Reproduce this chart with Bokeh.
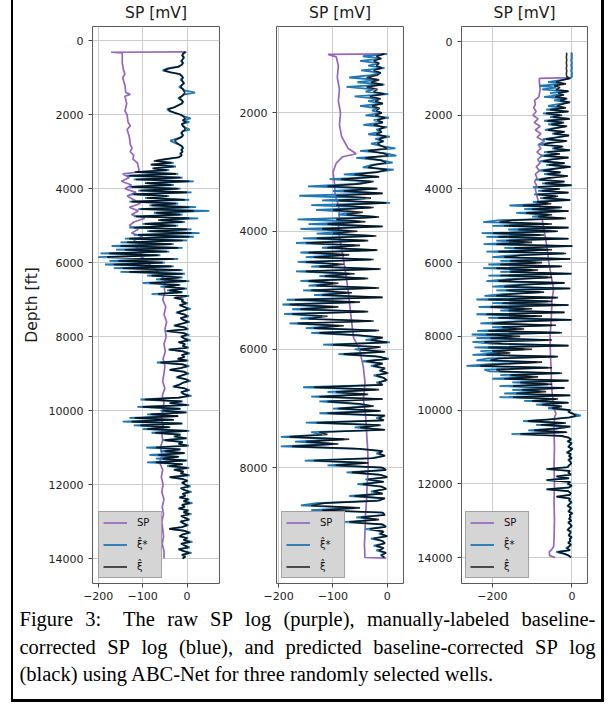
import numpy as np
from bokeh.plotting import figure
from bokeh.models import Range1d, FixedTicker, Legend, LegendItem, Div
from bokeh.layouts import row, column
from bokeh.embed import file_html
from bokeh.resources import INLINE
from bokeh.core.properties import value

# ---------------- Well 1 ----------------
W1_TOP, W1_STEP = 300, 50
SP1_DEPTH = [300, 310, 330, 600, 800, 900, 1000, 1200, 1400, 1450, 1500, 1700, 1900, 2000, 2200, 2300,
             2400, 2600, 2800, 2900, 3000, 3100, 3200, 3300, 3400, 3500, 3550, 3600, 3700, 3800, 3900,
             4000, 4100, 4200, 4300, 4400, 4500, 4600, 4700, 4800, 4900, 5000, 5100, 5200, 5300, 5400,
             5500, 5600, 5700, 5800, 5900, 6000, 6100, 6200, 6300, 6400, 6500, 6600, 6800, 7000, 7200,
             7400, 7600, 7800, 8000, 8200, 8400, 8600, 8800, 9000, 9200, 9400, 9600, 9800, 10000, 10200,
             10400, 10600, 10800, 11000, 11200, 11400, 11600, 11800, 12000, 12200, 12400, 12600, 12800,
             13000, 13200, 13400, 13600, 13800, 14000]
SP1 = [-2, -171, -146, -146, -143, -140, -145, -140, -138, -128, -140, -136, -140, -135, -133, -128,
       -135, -130, -128, -124, -128, -120, -122, -112, -110, -108, -112, -145, -130, -148, -125,
       -140, -115, -135, -120, -105, -130, -110, -125, -95, -120, -130, -110, -125, -100, -120,
       -105, -115, -100, -110, -95, -90, -80, -70, -60, -55, -48, -52, -50, -55, -48,
       -52, -46, -50, -47, -52, -49, -54, -50, -52, -55, -50, -56, -52, -55, -58,
       -54, -57, -55, -60, -56, -62, -55, -58, -54, -57, -52, -56, -53,
       -57, -55, -53, -56, -52, -52]
BLUE1 = [
    # 300-3150
    -2, -8, -12, -6, -10, -14, -8, -12, -20, -45,
    -55, -40, -18, -12, -8, -15, -10, -6, -12, -18,
    -10, -4, 18, -6, -12, -20, -14, -8, -12, -22,
    -30, -45, -40, -28, -15, -5, 8, -10, 5, -12,
    -8, -4, 6, -10, -14, -8, -12, -25, -38, -30,
    -20, -12, -8, -14, -10, -16, -12, -20,
    # 3200-3550
    -45, -70, -30, -80, -25, -75, -40, -115,
    # 3600-5000
    -20, -135, -10, -120, 15, -90, -30, -130, -15, -110,
    10, -125, -40, -95, 5, -130, -20, -85, 20, -110,
    50, -75, -10, -120, 25, -60, -5, -100, -20,
    # 5050-6300
    -130, 10, -90, 28, -120, 15, -140, 0, -150, -30,
    -170, -10, -160, -40, -195, -60, -200, -20, -175, -50,
    -185, -30, -165, -10, -150, -5,
    # 6350-7000
    -90, -10, -70, 5, -100, -15, -60, 0, -45, -10, -80, 5, -30, -8,
    # 7050-9600
    -12, 2, -18, -5, 8, -10, -25, -6, 4, -15,
    -8, 6, -12, -30, -5, 3, -48, -8, 5, -14,
    -6, 8, -20, -4, -10, 4, -42, -8, 6, -12,
    -5, -22, 3, -68, -10, 5, -15, -40, -6, 4,
    -12, -25, -3, 8, -10, -18, -32, -5, 6, -14,
    -8, 10,
    # 9650-11900
    -20, -105, -10, -40, 5, -112, -15, -60, 0, -90,
    -20, -130, -30, -145, -10, -120, -40, -100, 5, -80,
    -15, -30, 0, -55, -10, -20, 4, -92, -15, -60,
    -5, -85, -20, -70, 0, -90, -10, -45, 5, -30,
    -8, -15, 6, -40, -10, 2,
    # 11950-14000
    -12, -4, 8, -15, -6, 10, -10, -3, -18, 5,
    -8, 12, -12, -5, -20, 4, -8, 10, -14, -4,
    6, -16, -8, 3, -12, -40, -6, 8, -10, -18,
    2, -8, 12, -14, -5, 6, -20, -8, 10, -12,
    -4, -10]
BLACK1 = [
    -4, -10, -10, -8, -10, -12, -10, -12, -18, -40,
    -52, -38, -16, -12, -10, -12, -10, -8, -12, -14,
    -10, -8, -5, -8, -12, -18, -12, -10, -12, -20,
    -28, -42, -38, -26, -14, -8, -4, -10, -2, -12,
    -10, -6, -4, -10, -12, -10, -12, -20, -28, -24,
    -18, -12, -10, -12, -10, -14, -12, -18,
    -50, -75, -35, -82, -30, -78, -45, -118,
    -25, -130, -15, -115, 5, -95, -35, -125, -20, -105,
    0, -120, -45, -90, -5, -125, -25, -80, 5, -105,
    15, -70, -15, -115, 5, -65, -10, -95, -25,
    -120, 0, -85, 10, -110, 5, -130, -10, -135, -35,
    -150, -20, -140, -45, -175, -65, -180, -30, -155, -55,
    -165, -35, -145, -15, -130, -10,
    -80, -15, -60, -2, -85, -18, -50, -5, -40, -12, -65, 0, -28, -10,
    -12, -2, -16, -6, 2, -10, -22, -7, 0, -14,
    -8, 2, -12, -28, -6, 0, -45, -9, 0, -13,
    -7, 2, -18, -5, -10, 0, -40, -9, 2, -12,
    -6, -20, -1, -60, -10, 0, -14, -38, -7, 0,
    -12, -22, -4, 3, -10, -17, -30, -6, 2, -13,
    -8, 4,
    -18, -95, -12, -38, 0, -100, -15, -55, -3, -82,
    -20, -118, -30, -125, -12, -105, -38, -90, 0, -72,
    -15, -28, -2, -50, -10, -18, 0, -70, -15, -50,
    -6, -65, -18, -55, -2, -70, -10, -40, 0, -28,
    -8, -14, 2, -38, -10, 0,
    -11, -5, 4, -13, -6, 5, -10, -4, -16, 2,
    -8, 6, -11, -5, -18, 1, -8, 5, -13, -5,
    3, -14, -8, 0, -11, -40, -6, 4, -10, -16,
    0, -8, 6, -13, -5, 2, -18, -8, 5, -11,
    -4, -10]

# ---------------- Well 2 ----------------
W2_TOP, W2_STEP = 1000, 40
SP2_DEPTH = [1000, 1010, 1050, 1200, 1400, 1600, 1800, 2000, 2200, 2400, 2500, 2600, 2690, 2740, 2850,
             3000, 3200, 3400, 3500, 3650, 4000, 4500, 5000, 5500, 5800, 6000, 6300, 6550, 6850, 7100,
             7400, 7700, 8000, 8300, 8550, 8800, 9100, 9300, 9520, 9530]
SP2 = [-2, -109, -94, -90, -92, -88, -90, -86, -88, -84, -78, -72, -57, -82, -94,
       -100, -97, -96, -92, -88, -90, -80, -72, -66, -62, -51, -44, -41, -44, -40,
       -38, -36, -35, -37, -38, -40, -41, -42, -41, -2]
BLUE2 = [
    0, -45, -10, -50, -15, -35, -5, -48, -12, -30,
    -70, -20, -55, -5, -75, -25, -40, 2, -60, -15, -35, -8, -50, -18, -28,
    -10, -40, 3, -25, -8, -44, 0, -20, -12, -35, 5, -22, -6, -30, -10,
    15, -50, -5, 17, -57, -10, 10, -30, -45, 12, -20,
    -80, -15, -106, -30, -60, -146, -20,
    -100, -10, -162, -40, -120, 5, -140, -30, -131, -60, -90, -20, -165, -50, -145, -10, -160, -70, -130, -25, -155,
    -40, -168, -60, -120, -20, -160, -80, -150, -30, -165, -90, -140, -15, -168, -70, -125, -40, -160, -100, -145,
    -20, -155, -75, -135, -10,
    -185, -60, -193, -100, -175, -40, -190, -120, -160, -30, -180, -90, -150, -20, -140, -60,
    -10, -40, 5, -118, -15, -60, -5, -90, -20, 3, -45, -10, -30,
    -5, -15, 2, -25, -8, 0, -20, -10,
    -155, -20, -110, -40, -140, -10, -125, -60, -30, -100, -15, -125, -5,
    -20, -8, -150, -15, -60, -5, -140,
    -120, -196, -80, -170, -100, -196, -60,
    -10, -20, -5, -30,
    -152, -40, -110,
    -10, -3, -75, -15, 0, -40, -8, -55, -12, -2, -30, -10, -70, -5,
    -20, -130, -159, -60, -140, -10,
    -5, -57, -20, -81, -10, -3, -40, -8, -15, 0, -30, -10, -5, -25, -8, -20, -3, -12, -6]
BLACK2 = [
    -5, -20, -12, -25, -15, -20, -10, -25, -12, -18,
    -38, -15, -30, -8, -38, -18, -25, -5, -32, -12, -22, -8, -28, -14, -20,
    -10, -22, -4, -18, -8, -25, -5, -15, -10, -20, -2, -15, -8, -18, -10,
    0, -35, -8, 2, -40, -12, -2, -25, -35, 0, -18,
    -60, -15, -85, -25, -50, -110, -18,
    -80, -8, -94, -30, -90, -2, -94, -25, -100, -45, -75, -15, -94, -40, -110, -8, -120, -55, -100, -20, -130,
    -35, -150, -50, -110, -18, -145, -70, -135, -25, -150, -80, -125, -12, -150, -60, -115, -35, -145, -90, -130,
    -15, -140, -65, -120, -8,
    -170, -50, -180, -90, -160, -35, -175, -110, -145, -25, -165, -80, -135, -15, -125, -50,
    -8, -30, 0, -100, -12, -50, -4, -80, -15, 0, -38, -8, -25,
    -4, -12, 0, -20, -6, -2, -15, -8,
    -135, -15, -95, -35, -125, -8, -110, -50, -25, -90, -12, -110, -4,
    -15, -6, -130, -12, -50, -4, -125,
    -110, -180, -70, -150, -90, -175, -50,
    -8, -15, -4, -25,
    -135, -35, -95,
    -8, -2, -65, -12, 0, -35, -6, -45, -10, -2, -25, -8, -60, -4,
    -15, -115, -140, -50, -120, -8,
    -4, -48, -15, -70, -8, -2, -32, -6, -12, 0, -25, -8, -4, -20, -6, -15, -2, -10, -5]

# ---------------- Well 3 ----------------
W3_TOP, W3_STEP = 300, 50
SP3_DEPTH = [300, 980, 1000, 1100, 1300, 1500, 1600, 1700, 1800, 1900, 2000, 2100, 2200, 2300, 2400, 2500,
             2600, 2700, 2800, 2900, 3000, 3100, 3200, 3300, 3400, 3500, 3600, 3700, 3800, 3900, 4000,
             4200, 4500, 5000, 5500, 6000, 6500, 6700, 7000, 7500, 8000, 8500, 9000, 9200, 9500, 9700,
             9900, 10000, 10100, 10200, 10500, 11000, 11500, 12000, 12500, 13000, 13500, 13700, 13800,
             13850, 13950, 14000]
SP3 = [-1, -1, -82, -82, -80, -83, -94, -92, -96, -90, -98, -85, -95, -80, -92, -78,
       -88, -69, -85, -78, -88, -76, -86, -80, -90, -82, -92, -88, -94, -89, -92,
       -88, -80, -72, -64, -58, -50, -46, -50, -52, -55, -54, -52, -52, -50, -48,
       -46, -44, -40, -44, -45, -44, -45, -44, -45, -44, -45, -46, -52,
       -57, -56, -42]
BLUE3 = [
    -2, 0, -1, 0, -2, -1, 0, -2, 0, -1, -2, 0, -1, 0,
    -5, -30, -60, -20, -82, -40, -75, -10, -55, -25, -70, -15, -45, -5, -35, -60, -20,
    -65, -10, -73, -30, -55, -5, -70, -25, -60, -15, -45, -68, -20, -50, -8, -40,
    -73, -15, -60, -82, -25, -50, -5, -70, -35, -78, -10, -55, -80, -20, -65, -3, -45, -82, -30, -70, -12, -60,
    -90, -20, -75, 0, -98, -35, -85, -10, -95, -40, -80, -5, -98, -60,
    -157, -30, -120, -10, -140, -60, -100, -20,
    -180, -223, -60, -200, -10, -160, -40,
    -227, -80, -215, -10, -190, -120, -222, 2, -170, -60, -215, -20, -150, -200, -5, -180, -90, -210,
    -30, -223, -100, -180, 0, -210, -60, -160, -215, -20, -140, -200, -5, -190, -80, -170, -220, -40,
    -240, -60, -200, -10, -235, -120, -180, -20, -240, -90, -210, 0, -160, -230, -50, -200, -140, -238,
    -30, -252, -150, -240, -60, -250, -200, -10, -245, -120, -230, -180, -250, -40, -210, -240, -90,
    -200, -265, -60, -220,
    -207, -30, -180, -100, -200, -10, -150, -60,
    -182, -20, -150, -80, -170, -5, -182, -40,
    -120, -10, -90, -30, -60, -5,
    -10, 5, 22, -8,
    -60, -123, -20, -90, -5, -40, -110, -15, -152, -30,
    -8, -2, -12, 0, -6, -10, 2, -5, -14, -3, -8, 0, -10, -4, -2, -8, -12,
    -65, -5, -10, -2, -40, -8, -65, -4, -12, 0, -8, -65, -10, -3, -6, -40,
    -4, -8, 0, -6, -12, -2, -5, -10, 2, -6, -3, -8, -1, -10, -4, 0, -7, -12, -3, -5,
    -9, 0, -6, -4, -10, -2, -8, -15, -5, -40, -20, -8, -2]
BLACK3 = [
    -14, -13, -14, -14, -13, -14, -14, -13, -14, -14, -13, -14, -14, -13,
    -6, -25, -40, -15, -45, -30, -40, -8, -35, -20, -42, -12, -30, -5, -25, -38, -15,
    -55, -8, -65, -25, -48, -6, -62, -20, -52, -12, -40, -60, -18, -45, -7, -35,
    -65, -12, -55, -70, -22, -45, -5, -62, -30, -70, -8, -50, -72, -18, -58, -4, -40, -72, -28, -62, -10, -55,
    -82, -18, -68, -2, -85, -30, -76, -8, -86, -35, -72, -4, -88, -52,
    -123, -25, -100, -8, -115, -50, -85, -15,
    -150, -182, -50, -170, -8, -135, -35,
    -198, -70, -185, -8, -165, -100, -190, 0, -145, -50, -185, -15, -130, -170, -4, -155, -75, -180,
    -25, -190, -85, -155, -2, -180, -50, -140, -185, -18, -120, -170, -4, -165, -70, -150, -190, -35,
    -210, -50, -175, -8, -205, -100, -160, -18, -215, -75, -185, -2, -140, -200, -40, -175, -120, -210,
    -25, -215, -130, -205, -50, -220, -175, -8, -210, -100, -200, -155, -215, -35, -185, -205, -75,
    -170, -230, -50, -190,
    -180, -25, -155, -85, -170, -8, -130, -50,
    -148, -18, -125, -65, -140, -4, -148, -35,
    -100, -8, -75, -25, -50, -4,
    -8, 2, 10, -6,
    -50, -110, -15, -78, -4, -35, -95, -12, -130, -25,
    -7, -3, -10, -1, -5, -8, 0, -4, -11, -3, -7, -1, -8, -4, -2, -7, -10,
    -62, -5, -9, -3, -38, -7, -62, -4, -10, -1, -7, -62, -9, -3, -5, -38,
    -5, -7, -2, -6, -10, -3, -5, -8, 0, -6, -4, -7, -2, -9, -4, -1, -6, -10, -3, -5,
    -8, -1, -6, -4, -9, -3, -7, -12, -5, -35, -18, -7, -3]

# ---------------- axes / labels ----------------
X_TICKS_12 = [-200, -100, 0]
X_TICKS_3 = [-200, 0]
Y_TICKS_13 = [0, 2000, 4000, 6000, 8000, 10000, 12000, 14000]
Y_TICKS_2 = [2000, 4000, 6000, 8000]
TITLE = "SP [mV]"
YLABEL = "Depth [ft]"
LEGEND_LABELS = ["SP", "\u03be\u0302*", "\u03be\u0302"]

CAPTION_LINES = [
    ["Figure", "3:", "The", "raw", "SP", "log", "(purple),", "manually-labeled", "baseline-"],
    ["corrected", "SP", "log", "(blue),", "and", "predicted", "baseline-corrected", "SP", "log"],
    ["(black) using ABC-Net for three randomly selected wells."],
]
CAPTION_X = [
    [6, 71.7, 109.6, 153.7, 196.6, 231.6, 270, 353.4, 507.9],
    [6, 93.7, 127.9, 165.5, 231.0, 272.0, 359.8, 521.5, 555.7],
    [6],
]
CAPTION_Y = [11, 39, 66]

PURPLE = "#9467bd"
BLUE = "#1f77b4"
FONT = "DejaVu Sans"
FRAME_H = 557
TITLE_H = 25
CAP_H = 92


def depths(top, step, n):
    return top + step * np.arange(n)


def bare_fig(width, height):
    f = figure(width=width, height=height, x_range=Range1d(0, width), y_range=Range1d(height, 0),
               output_backend="svg", toolbar_location=None, min_border=0,
               x_axis_type=None, y_axis_type=None, background_fill_color="white",
               border_fill_color="white")
    f.outline_line_color = None
    f.grid.visible = False
    return f


def title_fig(width, center_x):
    t = bare_fig(width, TITLE_H)
    t.text(x=[center_x], y=[12.5], text=[TITLE], text_align="center", text_baseline="alphabetic",
           text_font=value(FONT), text_font_size=value("15.5px"), text_color="#1a1a1a")
    return t


def make_panel(width, bl, br, xr, yr, xticks, yticks, sp_d, sp_v, blue_v, black_v,
               top, step, legend_x, ylabel=False):
    p = figure(width=width, height=1 + FRAME_H + 24, x_range=Range1d(*xr), y_range=Range1d(*yr),
               output_backend="svg", toolbar_location=None,
               min_border_left=bl, min_border_right=br, min_border_top=1, min_border_bottom=24,
               background_fill_color="white", border_fill_color="white")
    p.outline_line_color = "#5a5a5a"
    p.outline_line_width = 1
    p.xaxis.ticker = FixedTicker(ticks=xticks)
    p.yaxis.ticker = FixedTicker(ticks=yticks)
    p.xaxis.major_label_overrides = {t: (("\u2212" + str(abs(t))) if t < 0 else str(t)) for t in xticks}
    for ax in (p.xaxis, p.yaxis):
        ax.axis_line_color = None
        ax.major_tick_in = 0
        ax.major_tick_out = 4
        ax.major_tick_line_color = "#444444"
        ax.minor_tick_line_color = None
        ax.major_label_text_font = FONT
        ax.major_label_text_font_size = "11px"
        ax.major_label_text_color = "#222222"
    p.xaxis.major_label_standoff = 4
    p.yaxis.major_label_standoff = 5
    if ylabel:
        p.yaxis.axis_label = YLABEL
        p.yaxis.axis_label_text_font = FONT
        p.yaxis.axis_label_text_font_size = "15.5px"
        p.yaxis.axis_label_text_font_style = "normal"
        p.yaxis.axis_label_text_color = "#1a1a1a"
        p.yaxis.axis_label_standoff = 5
    p.grid.grid_line_color = "#cccccc"
    p.grid.grid_line_width = 1

    r1 = p.line(x=sp_v, y=sp_d, line_color=PURPLE, line_width=1.7)
    r2 = p.line(x=blue_v, y=depths(top, step, len(blue_v)), line_color=BLUE, line_width=1.8)
    r3 = p.line(x=black_v, y=depths(top, step, len(black_v)), line_color="black",
                line_alpha=0.82, line_width=1.6)

    leg = Legend(items=[LegendItem(label=value(LEGEND_LABELS[0]), renderers=[r1]),
                        LegendItem(label=value(LEGEND_LABELS[1]), renderers=[r2]),
                        LegendItem(label=value(LEGEND_LABELS[2]), renderers=[r3])],
                 location=(legend_x, 5), padding=4, spacing=9, margin=0,
                 glyph_width=24, glyph_height=13, label_height=13, label_standoff=10,
                 label_text_font=FONT, label_text_font_size="10px", label_text_color="#111111",
                 background_fill_color="#d5d5d5", background_fill_alpha=1.0,
                 border_line_color="#707070", border_line_width=1)
    p.add_layout(leg)
    return p


f1 = make_panel(216, 79, 10, (-213, 73), (14676, -386), X_TICKS_12, Y_TICKS_13,
                SP1_DEPTH, SP1, BLUE1, BLACK1, W1_TOP, W1_STEP, 6, ylabel=True)
f2 = make_panel(184, 47, 10, (-204, 30), (9960, 537), X_TICKS_12, Y_TICKS_2,
                SP2_DEPTH, SP2, BLUE2, BLACK2, W2_TOP, W2_STEP, 5)
f3 = make_panel(188, 48, 14, (-277.5, 39), (14705, -407), X_TICKS_3, Y_TICKS_13,
                SP3_DEPTH, SP3, BLUE3, BLACK3, W3_TOP, W3_STEP, 4)
t1 = title_fig(216, 79 + 127 / 2)
t2 = title_fig(184, 47 + 127 / 2)
t3 = title_fig(188, 48 + 126 / 2)

cap = bare_fig(588, CAP_H)
for words, xs, yy in zip(CAPTION_LINES, CAPTION_X, CAPTION_Y):
    cap.text(x=xs, y=[yy] * len(words), text=words, text_font=value("Liberation Serif"),
             text_font_size=value("20.5px"), text_baseline="alphabetic", text_align="left",
             text_color="black")

total_h = TITLE_H + 1 + FRAME_H + 24 + CAP_H + 3
black_bottom = Div(width=588, height=3, margin=0, styles={"background-color": "black"})
inner = column(row(t1, t2, t3), row(f1, f2, f3), cap, black_bottom)
layout = row(Div(width=11, height=total_h, margin=0),
             Div(width=2, height=total_h, margin=0, styles={"background-color": "black"}),
             inner,
             Div(width=3, height=total_h, margin=0, styles={"background-color": "black"}))

open("out.html", "w").write(file_html(layout, INLINE))
